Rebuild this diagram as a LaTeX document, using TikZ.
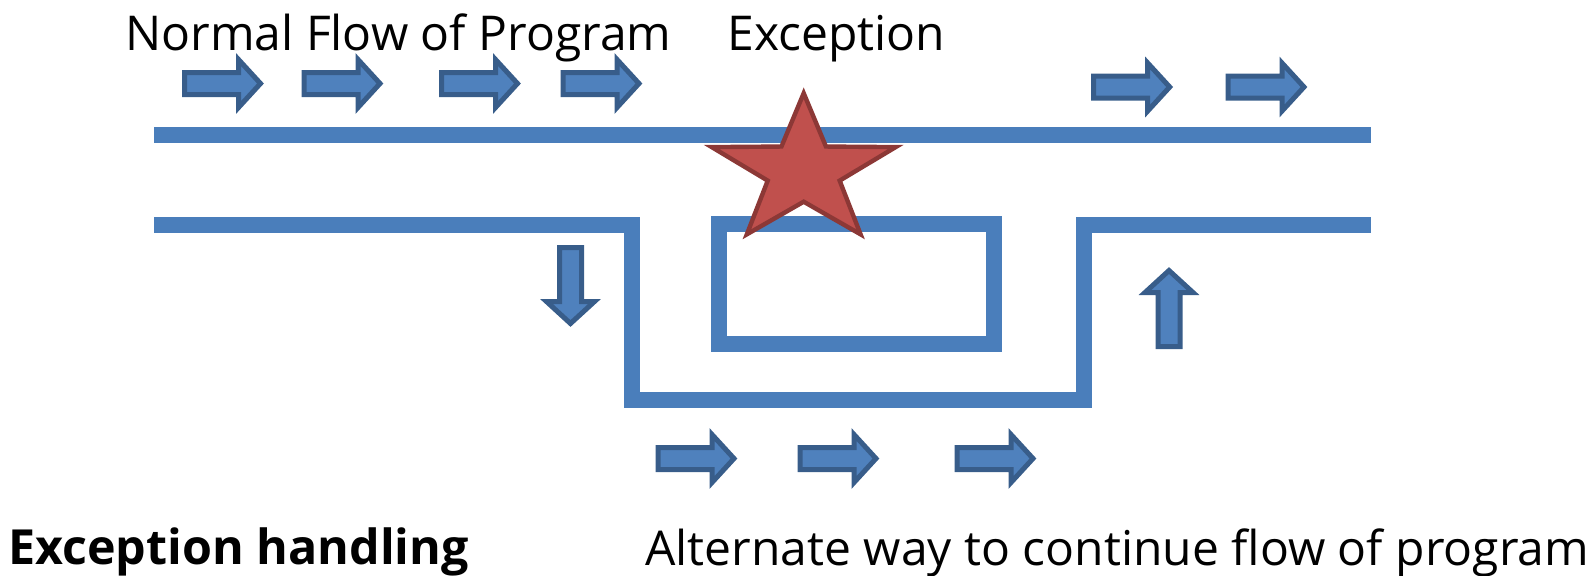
\documentclass[tikz,border=0pt]{standalone}
\usepackage{fontspec}
\setmainfont{Open Sans}
\definecolor{pipeblue}{HTML}{4A7EBB}
\definecolor{arrowfill}{HTML}{4F81BD}
\definecolor{arrowedge}{HTML}{385D8A}
\definecolor{starfill}{HTML}{C0504D}
\definecolor{staredge}{HTML}{8C3836}
\tikzset{
  pipe/.style={line width=8pt, draw=pipeblue, line join=miter},
  flowarrow/.pic={
    \filldraw[line width=2.5pt, draw=arrowedge, fill=arrowfill]
      (-38,-11)--(16,-11)--(16,-24)--(38,0)--(16,24)--(16,11)--(-38,11)--cycle;
  },
  flowtext/.style={anchor=base west, inner sep=0pt, font=\fontsize{24}{29}\selectfont}
}
\begin{document}
\begin{tikzpicture}[x=0.5pt, y=-0.5pt]
    \useasboundingbox (0,0) rectangle (1592,575);
    % the normal pipe and the detour pipe
    \draw[pipe] (154,134.5) -- (1371,134.5);
    \draw[pipe] (154,225) -- (632,225) -- (632,400) -- (1084,400) -- (1084,225) -- (1371,225);
    % block that stops the flow
    \draw[pipe] (718.7,224) rectangle (994.3,343.7);
    % arrows along the flow
    \foreach \x in {222.5,342,479.5,601}
        \pic at (\x,83.5) {flowarrow};
    \foreach \x in {1131.7,1266}
        \pic at (\x,87) {flowarrow};
    \foreach \x in {696,838,995}
        \pic at (\x,458.5) {flowarrow};
    \pic[rotate=-90] at (570.5,285.5) {flowarrow};
    \pic[rotate=90] at (1169,308.5) {flowarrow};
    % the exception star, a bit wider than high
    \filldraw[line width=2.2pt, draw=staredge, fill=starfill, shift={(803.7,171.2)}, xscale=1.24]
        (-90:78) -- (-54:30.5) -- (-18:78) -- (18:30.5) -- (54:78) -- (90:30.5)
        -- (126:78) -- (162:30.5) -- (198:78) -- (234:30.5) -- cycle;
    % texts
    \node[flowtext] (normal) at (125,50) {Normal Flow of Program};
    \node[flowtext] (exception) at (727,50) {Exception};
    \node[flowtext, font=\fontsize{24.2}{29}\selectfont\bfseries] (handling) at (8,564) {Exception handling};
    \node[flowtext] (alternate) at (645,565) {Alternate way to continue flow of program};
\end{tikzpicture}
\end{document}
